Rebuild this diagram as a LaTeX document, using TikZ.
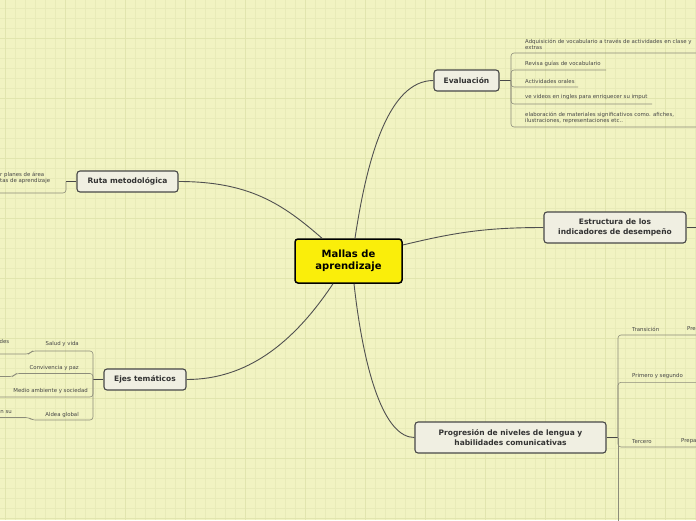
\documentclass[tikz,border=0pt]{standalone}
\usepackage{fontspec}
\setmainfont{DejaVu Sans}
\usepackage{xcolor}
\usetikzlibrary{positioning}

\definecolor{paper}{RGB}{241,243,194}
\definecolor{gridminor}{RGB}{232,235,184}
\definecolor{gridmajor}{RGB}{225,229,174}
\definecolor{centerfill}{RGB}{250,238,10}
\definecolor{topicfill}{RGB}{240,239,226}
\definecolor{topicline}{RGB}{72,72,72}
\definecolor{topictext}{RGB}{51,51,51}
\definecolor{linkgray}{RGB}{80,80,80}
\definecolor{twiggray}{RGB}{140,140,122}
\definecolor{leaftext}{RGB}{70,70,70}

\begin{document}
\begin{tikzpicture}[
    x=1pt, y=-1pt,
    center/.style={rectangle, rounded corners=3pt, draw=black, line width=1.5pt, fill=centerfill,
        font=\fontsize{10}{12.3}\selectfont\bfseries, align=center, minimum width=107pt, minimum height=44pt},
    topic/.style={rectangle, rounded corners=3pt, draw=topicline, line width=1.1pt, fill=topicfill, text=topictext,
        font=\fontsize{7.5}{10}\selectfont\bfseries, align=center, minimum height=21pt},
    leaf/.style={font=\fontsize{5.4}{6.2}\selectfont, text=leaftext, inner sep=0pt, align=left},
    link/.style={draw=linkgray, line width=0.9pt},
    stub/.style={draw=topicline, line width=1.4pt},
    twig/.style={draw=twiggray, line width=0.6pt, rounded corners=3pt}
]
\useasboundingbox (0,0) rectangle (696,520);
\clip (0,0) rectangle (696,520);
\fill[paper] (0,0) rectangle (696,520);
\foreach \gx in {5,15,...,695} \draw[gridminor, line width=0.6pt] (\gx,0) -- (\gx,520);
\foreach \gy in {8,18,...,518} \draw[gridminor, line width=0.6pt] (0,\gy) -- (696,\gy);
\foreach \gx in {5,65,...,665} \draw[gridmajor, line width=0.9pt] (\gx,0) -- (\gx,520);
\foreach \gy in {38,98,...,518} \draw[gridmajor, line width=0.9pt] (0,\gy) -- (696,\gy);

\node[center] (main) at (348.5,261) {Mallas de\\aprendizaje};
\node[topic, minimum width=65pt] (eval) at (466.5,80.5) {Evaluación};
\node[topic, minimum width=101pt] (ruta) at (127.5,181.5) {Ruta metodológica};
\node[topic, minimum width=142pt, minimum height=31pt] (estr) at (615,227.5) {Estructura de los\\indicadores de desempeño};
\node[topic, minimum width=82pt] (ejes) at (145,379.5) {Ejes temáticos};
\node[topic, minimum width=191pt, minimum height=31pt] (prog) at (510.5,437.5) {Progresión de niveles de lengua y\\habilidades comunicativas};

\draw[link] ([xshift=6.5pt]main.north) .. controls +(12,-80) and +(-45,0) .. (eval.west);
\draw[link] ([xshift=-26.5pt]main.north) .. controls +(-40,-35) and +(70,0) .. (ruta.east);
\draw[link] ([yshift=16pt]main.east) .. controls +(50,-12) and +(-60,0) .. (estr.west);
\draw[link] ([xshift=-15.5pt]main.south) .. controls +(-40,60) and +(60,0) .. (ejes.east);
\draw[link] ([xshift=5.5pt]main.south) .. controls +(10,90) and +(-30,0) .. (prog.west);

\coordinate (evhub) at (511,80.5);
\coordinate (ruhub) at (66,181.5);
\coordinate (ejhub) at (93,379.5);
\coordinate (prhub) at (618,437.5);
\coordinate (estend) at (700,227.5);
\draw[stub] (eval.east) -- (evhub);
\draw[stub] (ruta.west) -- (ruhub);
\draw[stub] (ejes.west) -- (ejhub);
\draw[stub] (prog.east) -- (prhub);
\draw[stub] (estr.east) -- (estend);

\node[leaf, anchor=west] (ev1) at (525,44.5) {Adquisición de vocabulario a través de actividades en clase y\\extras};
\node[leaf, anchor=west] (ev2) at (525,63.5) {Revisa guías de vocabulario};
\node[leaf, anchor=west] (ev3) at (525,81) {Actividades orales};
\node[leaf, anchor=west] (ev4) at (525,97.5) {ve videos en ingles para enriquecer su imput};
\node[leaf, anchor=west] (ev5) at (525,117.5) {elaboración de materiales significativos como. afiches,\\ilustraciones, representaciones etc..};
\coordinate (evend1) at (700,53);
\coordinate (evend2) at (606,70);
\coordinate (evend3) at (578,87);
\coordinate (evend4) at (652,104);
\coordinate (evend5) at (700,127);
\foreach \k in {1,...,5} \draw[twig] (evhub) |- (evend\k);

\node[leaf, anchor=west] (ru1) at (0,178) {r planes de área\\tas de aprendizaje};
\coordinate (ruend) at (-2,193);
\draw[twig] (ruhub) |- (ruend);

\node[leaf, anchor=east] (ej1) at (79,344) {Salud y vida};
\node[leaf, anchor=east] (ej2) at (79,367.7) {Convivencia y paz};
\node[leaf, anchor=east] (ej3) at (88,391) {Medio ambiente y sociedad};
\node[leaf, anchor=east] (ej4) at (79,415) {Aldea global};
\node[leaf, anchor=east] (ej1a) at (9.5,341) {des};
\node[leaf, anchor=east] (ej4a) at (12,411.7) {n su};
\coordinate (ejstep1) at (32,351);
\coordinate (ejstep2) at (16,373.5);
\coordinate (ejstep4) at (32,420);
\draw[twig] (ejhub) |- (ejstep1) -- ++(-3,3) -- (-2,354);
\draw[twig] (ejhub) |- (ejstep2) -- ++(-3,3) -- (-2,376.5);
\draw[twig] (ejhub) |- (-2,397);
\draw[twig] (ejhub) |- (ejstep4) -- ++(-3,-2.5) -- (-2,417.5);

\node[leaf, anchor=west] (pr1) at (632,329) {Transición};
\node[leaf, anchor=west] (pr1a) at (687,329) {Pre};
\node[leaf, anchor=west] (pr2) at (632,376) {Primero y segundo};
\node[leaf, anchor=west] (pr3) at (632,441.3) {Tercero};
\node[leaf, anchor=west] (pr3a) at (681,441.3) {Prepa};
\coordinate (prend1) at (700,335);
\coordinate (prend2) at (700,382.3);
\coordinate (prend3) at (700,447);
\coordinate (prend4) at (618,530);
\foreach \k in {1,2,3} \draw[twig] (prhub) |- (prend\k);
\draw[twig] (prhub) -- (prend4);
\end{tikzpicture}
\end{document}
